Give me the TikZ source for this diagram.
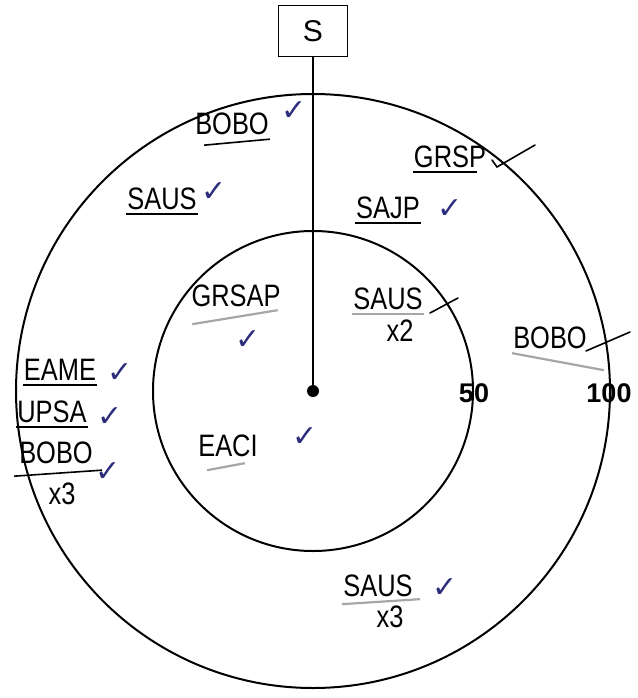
\documentclass[tikz,border=0pt]{standalone}
\usepackage{fontspec}
\setmainfont{Liberation Sans}
\newfontfamily\handfont[FakeStretch=0.82]{Liberation Sans}
\newfontfamily\symfont{DejaVu Sans}
\usetikzlibrary{positioning}
\definecolor{tickblue}{RGB}{45,45,125}

\begin{document}
\begin{tikzpicture}[
x=1pt, y=-1pt,
lbl/.style={
font=\handfont\fontsize{31}{33}\selectfont,
inner sep=1pt
},
ok/.style={
font=\symfont\fontsize{30}{32}\selectfont,
text=tickblue,
inner sep=0pt
},
num/.style={
font=\bfseries\fontsize{27}{29}\selectfont,
inner sep=0pt
},
uline/.style={line width=1.6pt},
guline/.style={line width=2.2pt, gray!70},
tickmark/.style={line width=1.6pt, line cap=round}
]
\useasboundingbox (0,0) rectangle (637,698);

% target
\coordinate (C) at (313,391);
\draw[line width=2pt] (C) circle[radius=297pt];
\draw[line width=2pt] (C) circle[radius=160pt];

\node[draw, line width=1.4pt, minimum width=69pt, minimum height=51pt,
font=\fontsize{30}{32}\selectfont] (S) at (313,31) {S};
\draw[line width=2.2pt] (S) -- (C);
\fill (C) circle[radius=6pt];

\node[num] (n50) at (474,393) {50};
\node[num] (n100) at (609,393) {100};

% outer ring
\node[lbl] (bobo1) at (232,124) {BOBO};
\node[ok] (ok1) at (294,111) {✓};
\draw[uline] ([xshift=10pt,yshift=-9pt]bobo1.south west) -- ([yshift=-3pt]bobo1.south east);

\node[lbl] (saus1) at (162,199) {SAUS};
\node[ok] (ok2) at (214,192) {✓};
\draw[uline] ([yshift=-3pt]saus1.south west) -- ([yshift=-3pt]saus1.south east);

\node[lbl] (grsp) at (450,157) {GRSP};
\draw[uline] ([yshift=-3pt]grsp.south west) -- ([xshift=-10pt,yshift=-3pt]grsp.south east);
\draw[tickmark] (492,160) -- (497,167) -- (535,145);

\node[lbl] (sajp) at (388,208) {SAJP};
\node[ok] (ok3) at (450,209) {✓};
\draw[uline] ([yshift=-3pt]sajp.south west) -- ([yshift=-3pt]sajp.south east);

\node[lbl] (bobo2) at (550,338) {BOBO};
\draw[guline] ([yshift=-3pt]bobo2.south west) -- ([xshift=16pt,yshift=-20pt]bobo2.south east);
\draw[tickmark] (586,351) -- (630,332);

\node[lbl] (eame) at (60,370) {EAME};
\node[ok] (ok4) at (120,373) {✓};
\draw[uline] ([yshift=-3pt]eame.south west) -- ([yshift=-3pt]eame.south east);

\node[lbl] (upsa) at (52,412) {UPSA};
\node[ok] (ok5) at (110,417) {✓};
\draw[uline] ([yshift=-3pt]upsa.south west) -- ([yshift=-3pt]upsa.south east);

\node[lbl] (bobo3) at (56,453) {BOBO};
\node[lbl] (bobo3n) at (62,494) {x3};
\node[ok] (ok6) at (108,472) {✓};
\draw[uline] ([xshift=-4pt,yshift=-11pt]bobo3.south west) -- ([xshift=8pt,yshift=-5pt]bobo3.south east);

\node[lbl] (saus3) at (378,586) {SAUS};
\node[lbl] (saus3n) at (390,617) {x3};
\node[ok] (ok7) at (445,588) {✓};
\draw[guline] ([yshift=-6pt]saus3.south west) -- ([xshift=6pt,yshift=-1pt]saus3.south east);

% inner ring
\node[lbl] (grsap) at (236,296) {GRSAP};
\node[ok] (ok8) at (248,340) {✓};
\draw[guline] ([xshift=2pt,yshift=-16pt]grsap.south west) -- ([xshift=-4pt,yshift=-2pt]grsap.south east);

\node[lbl] (saus2) at (388,299) {SAUS};
\node[lbl] (saus2n) at (400,331) {x2};
\draw[guline] ([yshift=-3pt]saus2.south west) -- ([yshift=-3pt]saus2.south east);
\draw[tickmark] (430,313) -- (458,298);

\node[lbl] (eaci) at (228,446) {EACI};
\node[ok] (ok9) at (305,437) {✓};
\draw[guline] ([xshift=10pt,yshift=-12pt]eaci.south west) -- ([xshift=-14pt,yshift=-5pt]eaci.south east);

\end{tikzpicture}
\end{document}
